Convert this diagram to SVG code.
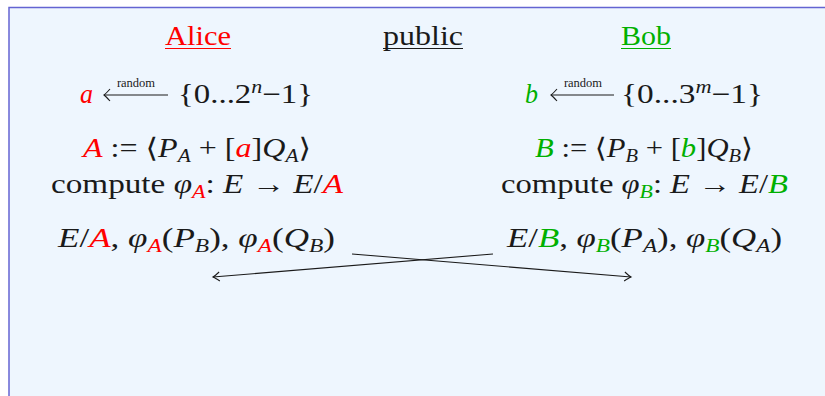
<svg xmlns="http://www.w3.org/2000/svg" width="825" height="396" viewBox="0 0 825 396">
<defs>
<style>
text{font-family:"Liberation Serif","DejaVu Serif",serif;font-size:27px;fill:#1a1a1a}
.r{fill:#ff0000}
.g{fill:#00b000}
.i{font-style:italic}
.s{font-size:18px}
.lbl{font-size:12.5px}
.ln{stroke:#1a1a1a;stroke-width:1.1;fill:none}
</style>
<marker id="ah" viewBox="-8 -6 10 12" markerWidth="10" markerHeight="12" refX="0" refY="0" orient="auto" markerUnits="userSpaceOnUse">
<path d="M-6.5,-4.5 Q-2,-1 0,0 Q-2,1 -6.5,4.5" fill="none" stroke="#1a1a1a" stroke-width="1.1"/>
</marker>
</defs>
<rect x="9" y="7.5" width="830" height="400" fill="#eef6fe" stroke="#6464d2" stroke-width="1.5"/>

<g id="alice-header">
<text x="165" y="45" class="r" textLength="66" lengthAdjust="spacingAndGlyphs">Alice</text>
<line x1="165" y1="48.5" x2="231" y2="48.5" stroke="#ff0000" stroke-width="1.2"/>
</g>
<g id="public-header">
<text x="383" y="45" textLength="80" lengthAdjust="spacingAndGlyphs">public</text>
<line x1="383" y1="48.5" x2="463" y2="48.5" stroke="#1a1a1a" stroke-width="1.2"/>
</g>
<g id="bob-header">
<text x="621" y="45" class="g" textLength="50" lengthAdjust="spacingAndGlyphs">Bob</text>
<line x1="621" y1="48.5" x2="671" y2="48.5" stroke="#00b000" stroke-width="1.2"/>
</g>

<g id="alice-secret">
<text x="80" y="103" class="r i" textLength="13" lengthAdjust="spacingAndGlyphs">a</text>
<line class="ln" x1="104" y1="95" x2="168" y2="95"/>
<path class="ln" d="M110,89 Q106,93.5 104,95 Q106,96.5 110,101"/>
<text x="136" y="87" text-anchor="middle" class="lbl">random</text>
<text x="178" y="103" textLength="135" lengthAdjust="spacingAndGlyphs">{0...2<tspan class="i s" dy="-10">n</tspan><tspan dy="10">−1}</tspan></text>
</g>
<g id="bob-secret">
<text x="525" y="103" class="g i" textLength="13" lengthAdjust="spacingAndGlyphs">b</text>
<line class="ln" x1="551" y1="95" x2="614" y2="95"/>
<path class="ln" d="M557,89 Q553,93.5 551,95 Q553,96.5 557,101"/>
<text x="583" y="87" text-anchor="middle" class="lbl">random</text>
<text x="621" y="103" textLength="142" lengthAdjust="spacingAndGlyphs">{0...3<tspan class="i s" dy="-10">m</tspan><tspan dy="10">−1}</tspan></text>
</g>

<g id="alice-kernel">
<text x="83" y="157" textLength="228" lengthAdjust="spacingAndGlyphs"><tspan class="r i">A</tspan> := ⟨<tspan class="i">P</tspan><tspan class="i s" dy="5">A</tspan><tspan dy="-5"> + [</tspan><tspan class="r i">a</tspan>]<tspan class="i">Q</tspan><tspan class="i s" dy="5">A</tspan><tspan dy="-5">⟩</tspan></text>
<text x="51" y="193" textLength="292" lengthAdjust="spacingAndGlyphs">compute <tspan class="i">φ</tspan><tspan class="i s r" dy="5">A</tspan><tspan dy="-5">: </tspan><tspan class="i">E</tspan> → <tspan class="i">E</tspan>/<tspan class="i r">A</tspan></text>
</g>
<g id="bob-kernel">
<text x="535" y="157" textLength="218" lengthAdjust="spacingAndGlyphs"><tspan class="g i">B</tspan> := ⟨<tspan class="i">P</tspan><tspan class="i s" dy="5">B</tspan><tspan dy="-5"> + [</tspan><tspan class="g i">b</tspan>]<tspan class="i">Q</tspan><tspan class="i s" dy="5">B</tspan><tspan dy="-5">⟩</tspan></text>
<text x="501" y="193" textLength="287" lengthAdjust="spacingAndGlyphs">compute <tspan class="i">φ</tspan><tspan class="i s g" dy="5">B</tspan><tspan dy="-5">: </tspan><tspan class="i">E</tspan> → <tspan class="i">E</tspan>/<tspan class="i g">B</tspan></text>
</g>

<g id="alice-send">
<text x="58" y="247" textLength="277" lengthAdjust="spacingAndGlyphs"><tspan class="i">E</tspan>/<tspan class="i r">A</tspan>, <tspan class="i">φ</tspan><tspan class="i s r" dy="5">A</tspan><tspan dy="-5">(</tspan><tspan class="i">P</tspan><tspan class="i s" dy="5">B</tspan><tspan dy="-5">), </tspan><tspan class="i">φ</tspan><tspan class="i s r" dy="5">A</tspan><tspan dy="-5">(</tspan><tspan class="i">Q</tspan><tspan class="i s" dy="5">B</tspan><tspan dy="-5">)</tspan></text>
</g>
<g id="bob-send">
<text x="507" y="247" textLength="275" lengthAdjust="spacingAndGlyphs"><tspan class="i">E</tspan>/<tspan class="i g">B</tspan>, <tspan class="i">φ</tspan><tspan class="i s g" dy="5">B</tspan><tspan dy="-5">(</tspan><tspan class="i">P</tspan><tspan class="i s" dy="5">A</tspan><tspan dy="-5">), </tspan><tspan class="i">φ</tspan><tspan class="i s g" dy="5">B</tspan><tspan dy="-5">(</tspan><tspan class="i">Q</tspan><tspan class="i s" dy="5">A</tspan><tspan dy="-5">)</tspan></text>
</g>

<g id="connectors">
<line class="ln" x1="352" y1="254" x2="631" y2="277" marker-end="url(#ah)"/>
<line class="ln" x1="493" y1="254" x2="213" y2="277" marker-end="url(#ah)"/>
</g>
</svg>
